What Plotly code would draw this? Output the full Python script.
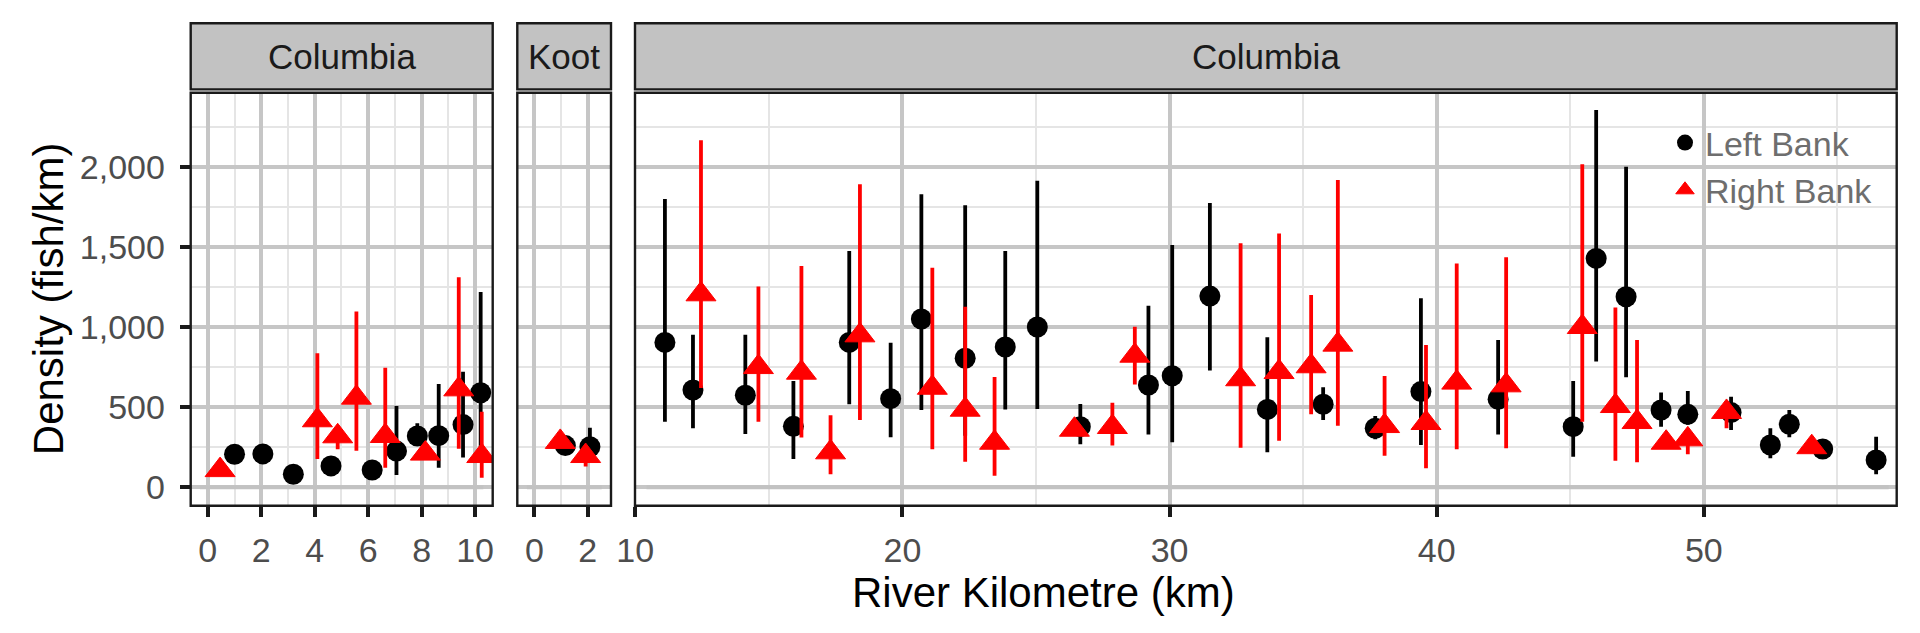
import plotly.graph_objects as go

# ---------------- data ----------------
# Panel 1: Columbia (0-10 km)
p1_left_x = [1.00, 2.06, 3.20, 4.61, 6.15, 7.06, 7.84, 8.64, 9.55, 10.21]
p1_left_y = [206, 208, 81, 133, 108, 226, 320, 322, 391, 590]
p1_left_lo = [160, 165, 50, 95, 75, 77, 260, 122, 185, 250]
p1_left_hi = [250, 255, 115, 175, 145, 507, 399, 644, 721, 1218]

p1_right_x = [0.46, 4.10, 4.86, 5.56, 6.64, 8.14, 9.39, 10.25]
p1_right_y = [107, 418, 318, 559, 320, 210, 611, 195]
p1_right_lo = [75, 177, 237, 228, 122, 170, 240, 60]
p1_right_hi = [140, 836, 360, 1096, 746, 250, 1310, 472]

# Panel 2: Koot
p2_left_x = [1.16, 2.08]
p2_left_y = [260, 253]
p2_left_lo = [230, 200]
p2_left_hi = [290, 372]

p2_right_x = [0.97, 1.92]
p2_right_y = [283, 195]
p2_right_lo = [255, 129]
p2_right_hi = [310, 230]

# Panel 3: Columbia (10-57 km)
p3_left_x = [11.11, 12.16, 14.12, 15.92, 18.01, 19.56, 20.71, 22.35, 23.85, 25.05,
             26.66, 29.21, 30.10, 31.51, 33.66, 35.75, 37.70, 39.41, 42.30, 45.11,
             45.97, 47.09, 48.40, 49.40, 51.02, 52.49, 53.20, 54.45, 56.45]
p3_left_y = [904, 607, 574, 380, 904, 553, 1050, 805, 875, 1000,
             378, 638, 696, 1193, 486, 518, 368, 597, 549, 378,
             1428, 1189, 482, 455, 466, 264, 393, 239, 170]
p3_left_lo = [409, 368, 332, 177, 518, 312, 482, 322, 486, 488,
              268, 330, 281, 728, 218, 420, 299, 264, 330, 191,
              784, 686, 378, 390, 358, 181, 312, 200, 81]
p3_left_hi = [1798, 952, 952, 663, 1474, 902, 1828, 1759, 1474, 1913,
              520, 1133, 1512, 1773, 936, 624, 445, 1179, 919, 663,
              2354, 2000, 592, 601, 565, 368, 482, 280, 316]

p3_right_x = [12.46, 14.61, 16.22, 17.31, 18.41, 21.12, 22.35, 23.45, 26.44, 27.86,
              28.70, 32.66, 34.10, 35.30, 36.30, 38.05, 39.60, 40.75, 42.60, 45.45,
              46.69, 47.50, 48.59, 49.40, 50.85, 54.04]
p3_right_y = [1204, 750, 715, 218, 948, 621, 484, 278, 359, 376,
              821, 674, 719, 755, 890, 382, 401, 653, 636, 1000,
              507, 407, 278, 299, 470, 250]
p3_right_lo = [620, 409, 310, 81, 420, 237, 160, 72, 330, 260,
               642, 247, 291, 455, 384, 197, 118, 237, 243, 409,
               166, 156, 255, 206, 368, 230]
p3_right_hi = [2165, 1252, 1380, 449, 1890, 1370, 1127, 688, 390, 528,
               1002, 1522, 1584, 1200, 1917, 694, 888, 1397, 1435, 2015,
               1121, 919, 300, 330, 500, 270]

# grey zero reference line extent per panel
ref_x = [[-0.29, 10.31], [-0.28, 2.52], [10.42, 56.92]]
ref_y = [0, 0]

strip_labels = ["Columbia", "Koot", "Columbia"]
x_ranges = [[-0.64, 10.66], [-0.64, 2.87], [9.99, 57.22]]
x_dtick = [2, 2, 10]
x_minor = [1, 1, 5]
y_range = [-115, 2462]
y_ticks = [0, 500, 1000, 1500, 2000]
y_ticktext = ["0", "500", "1,000", "1,500", "2,000"]

# ---------------- layout geometry (pixels) ----------------
W, H = 1920, 633
px_dom = [[190.7, 492.7], [517.3, 611.0], [635.0, 1896.7]]
py_top, py_bot = 92.7, 505.7
strip_top, strip_bot = 23.3, 89.4

FONT = "Liberation Sans, Arial, sans-serif"
BLACK = "#000000"
RED = "#FF0000"
GRID = "#C6C6C6"
MINOR = "#E5E5E5"

fig = go.Figure()

panels = [
    (p1_left_x, p1_left_y, p1_left_lo, p1_left_hi, p1_right_x, p1_right_y, p1_right_lo, p1_right_hi),
    (p2_left_x, p2_left_y, p2_left_lo, p2_left_hi, p2_right_x, p2_right_y, p2_right_lo, p2_right_hi),
    (p3_left_x, p3_left_y, p3_left_lo, p3_left_hi, p3_right_x, p3_right_y, p3_right_lo, p3_right_hi),
]

axnames = ["x", "x2", "x3"]
# reference lines first
for i, ax in enumerate(axnames):
    fig.add_trace(go.Scatter(x=ref_x[i], y=ref_y, xaxis=ax, yaxis="y", mode="lines",
                             line=dict(color="#C2C2C2", width=4), showlegend=False,
                             hoverinfo="skip"))

for i, ax in enumerate(axnames):
    lx, ly, llo, lhi, rx, ry, rlo, rhi = panels[i]
    fig.add_trace(go.Scatter(
        x=lx, y=ly, xaxis=ax, yaxis="y", mode="markers", name="Left Bank",
        legendgroup="left", showlegend=(i == 0),
        marker=dict(symbol="circle", size=21, color=BLACK),
        error_y=dict(type="data", symmetric=False,
                     array=[h - v for h, v in zip(lhi, ly)],
                     arrayminus=[v - l for v, l in zip(ly, llo)],
                     color=BLACK, thickness=3.8, width=0)))
for i, ax in enumerate(axnames):
    lx, ly, llo, lhi, rx, ry, rlo, rhi = panels[i]
    fig.add_trace(go.Scatter(
        x=rx, y=ry, xaxis=ax, yaxis="y", mode="markers", name="Right Bank",
        legendgroup="right", showlegend=(i == 0),
        marker=dict(symbol="triangle-up", size=26, color=RED,
                    line=dict(color=RED, width=1)),
        error_y=dict(type="data", symmetric=False,
                     array=[h - v for h, v in zip(rhi, ry)],
                     arrayminus=[v - l for v, l in zip(ry, rlo)],
                     color=RED, thickness=3.8, width=0)))

layout = dict(
    width=W, height=H, margin=dict(l=0, r=0, t=0, b=0, autoexpand=False),
    paper_bgcolor="white", plot_bgcolor="white",
    font=dict(family=FONT, size=34, color="#4D4D4D"),
    showlegend=True,
    legend=dict(x=1665 / W, xanchor="left", y=1 - 114 / H, yanchor="top",
                bgcolor="rgba(0,0,0,0)", borderwidth=0, tracegroupgap=0,
                font=dict(family=FONT, size=34, color="#6E6E6E")),
    yaxis=dict(domain=[1 - py_bot / H, 1 - py_top / H], range=y_range, anchor="x",
               tickvals=y_ticks, ticktext=y_ticktext, ticks="outside", ticklen=10,
               tickwidth=3.6, tickcolor="#1A1A1A", ticklabelstandoff=8,
               showgrid=True, gridcolor=GRID, gridwidth=4.3, zeroline=False,
               minor=dict(dtick=250, showgrid=True, gridcolor=MINOR, gridwidth=2),
               showline=False, automargin=False,
               tickfont=dict(family=FONT, size=34, color="#4D4D4D")),
)
for i, ax in enumerate(axnames):
    key = "xaxis" if i == 0 else f"xaxis{i+1}"
    layout[key] = dict(domain=[px_dom[i][0] / W, px_dom[i][1] / W], range=x_ranges[i],
                       anchor="y", tick0=0, dtick=x_dtick[i], ticks="outside", ticklen=10,
                       tickwidth=3.6, tickcolor="#1A1A1A", ticklabelstandoff=4,
                       showgrid=True, gridcolor=GRID, gridwidth=4.3, zeroline=False,
                       minor=dict(tick0=0, dtick=x_minor[i], showgrid=True,
                                  gridcolor=MINOR, gridwidth=2),
                       showline=False, automargin=False,
                       tickfont=dict(family=FONT, size=34, color="#4D4D4D"))
fig.update_layout(**layout)

shapes = []
annotations = []
for i, ax in enumerate(axnames):
    shapes.append(dict(type="rect", xref=f"{ax} domain", yref="y domain",
                       x0=0, x1=1, y0=0, y1=1, line=dict(color="#1A1A1A", width=2.4),
                       fillcolor="rgba(0,0,0,0)", layer="above"))
    shapes.append(dict(type="rect", xref=f"{ax} domain", yref="paper",
                       x0=0, x1=1, y0=1 - strip_bot / H, y1=1 - strip_top / H,
                       line=dict(color="#1A1A1A", width=2.4), fillcolor="#C2C2C2",
                       layer="above"))
    annotations.append(dict(text=strip_labels[i], xref=f"{ax} domain", yref="paper",
                            x=0.5, y=1 - ((strip_top + strip_bot) / 2) / H,
                            xanchor="center", yanchor="middle", showarrow=False,
                            borderpad=0,
                            font=dict(family=FONT, size=35, color="#1A1A1A")))

annotations.append(dict(text="Density (fish/km)", xref="paper", yref="paper",
                        x=48 / W, y=1 - ((py_top + py_bot) / 2) / H, textangle=-90,
                        xanchor="center", yanchor="middle", showarrow=False,
                        borderpad=0,
                        font=dict(family=FONT, size=42, color="#000000")))
annotations.append(dict(text="River Kilometre (km)", xref="paper", yref="paper",
                        x=((px_dom[0][0] + px_dom[2][1]) / 2) / W, y=1 - 592 / H,
                        xanchor="center", yanchor="middle", showarrow=False,
                        borderpad=0,
                        font=dict(family=FONT, size=42, color="#000000")))
fig.update_layout(shapes=shapes, annotations=annotations)

fig.write_html("out.html")
